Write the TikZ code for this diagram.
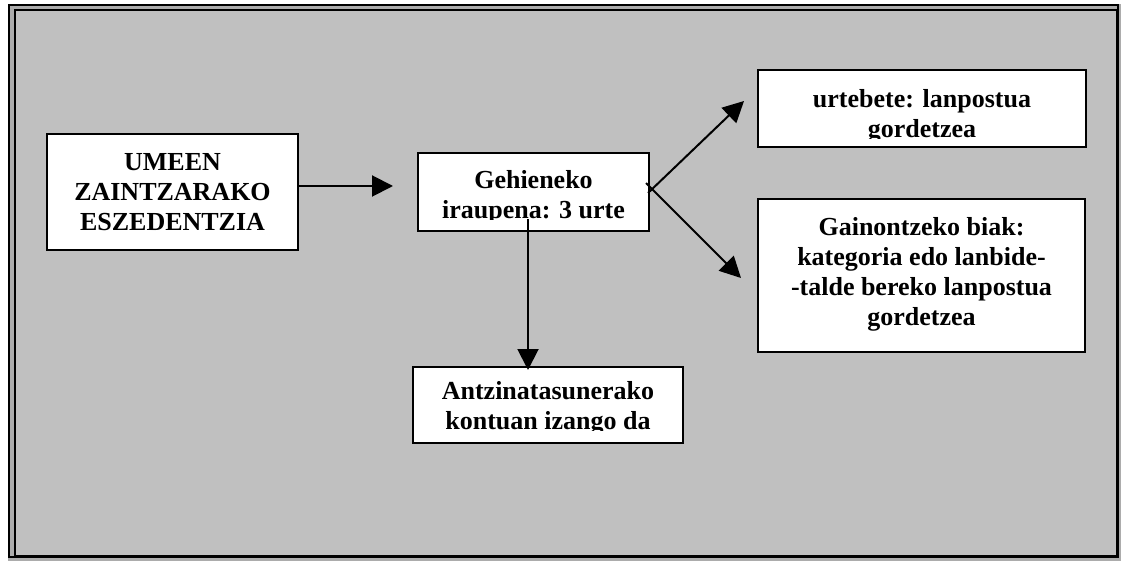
\documentclass[tikz,border=0pt]{standalone}
\usepackage{fontspec}
\setmainfont{Liberation Serif}
\usetikzlibrary{arrows.meta}
\definecolor{panel}{HTML}{C0C0C0}
\definecolor{rim}{HTML}{ACACAC}
\begin{document}
\begin{tikzpicture}[x=1pt,y=-1pt,
  box/.style={draw=black,line width=2pt,fill=white,inner sep=0pt,outer sep=0pt},
  label/.style={font=\bfseries\fontsize{26}{30}\selectfont,align=center,inner sep=0pt,anchor=base},
  arr/.style={line width=2pt,-{Triangle[length=21pt,width=21pt]}}]
\useasboundingbox (0,0) rectangle (1121,561);
% framed grey panel
\fill[rim] (8,4) rectangle (1121,561);
\fill[panel] (15,10) rectangle (1117,556);
\draw[line width=2pt] (9,4.8) rectangle (1118,556.5);
\draw[line width=2.4pt] (15,10) rectangle (1117.5,556);

% boxes
\node[box,minimum width=251pt,minimum height=116pt] (um) at (172.5,192) {};
\node[box,minimum width=231pt,minimum height=78pt] (ge) at (533.5,192) {};
\node[box,minimum width=328pt,minimum height=77pt] (ur) at (922,108.5) {};
\node[box,minimum width=327pt,minimum height=153pt] (ga) at (921.5,275.5) {};
\node[box,minimum width=270pt,minimum height=76pt] (an) at (548,405) {};

% texts (anchored on the baseline of their last line)
\node[label] (umt) at (172.5,231) {UMEEN\\ZAINTZARAKO\\ESZEDENTZIA};
\node[label] (gat) at (921.5,325.5) {Gainontzeko biak:\\kategoria edo lanbide-\\-talde bereko lanpostua\\gordetzea};
\begin{scope}
  \clip (ge.north west) rectangle (649,219.5);
  \node[label] (get) at (533.5,218.3) {Gehieneko\\iraupena: 3 urte};
\end{scope}
\begin{scope}
  \clip (ur.north west) rectangle (1086,138.5);
  \node[label] (urt) at (922,137.5) {urtebete: lanpostua\\gordetzea};
\end{scope}
\begin{scope}
  \clip (an.north west) rectangle (683,430.5);
  \node[label] (ant) at (548,429) {Antzinatasunerako\\kontuan izango da};
\end{scope}

% connectors
\coordinate (t1) at (393,186);
\draw[arr] (um.east |- t1) -- (t1);
\coordinate (v0) at (528,219.5);
\coordinate (v1) at (528,370);
\draw[arr] (v0) -- (v1);
\coordinate (d1) at (648,193);
\coordinate (d1t) at (744,101);
\draw[arr] (d1) -- (d1t);
\coordinate (d2) at (646,183);
\coordinate (d2t) at (741,278);
\draw[arr] (d2) -- (d2t);
\end{tikzpicture}
\end{document}
